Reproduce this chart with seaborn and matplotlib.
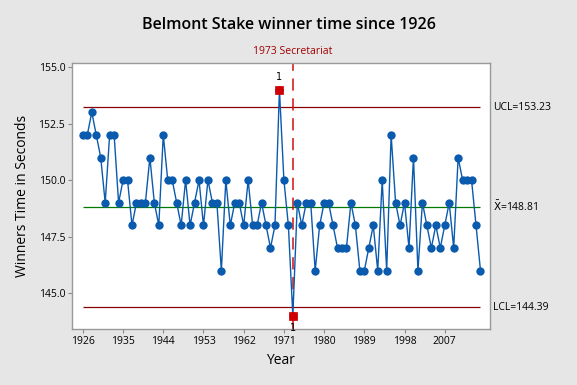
import matplotlib
matplotlib.use("Agg")
import matplotlib.pyplot as plt
import seaborn as sns
import pandas as pd

years = list(range(1926, 2016))
times = [
    152, 152, 153, 152, 151, 149, 152, 152, 149, 150,
    150, 148, 149, 149, 149, 151, 149, 148, 152, 150,
    150, 149, 148, 150, 148, 149, 150, 148, 150, 149,
    149, 146, 150, 148, 149, 149, 148, 150, 148, 148,
    149, 148, 147, 148, 154, 150, 148, 144, 149, 148,
    149, 149, 146, 148, 149, 149, 148, 147, 147, 147,
    149, 148, 146, 146, 147, 148, 146, 150, 146, 152,
    149, 148, 149, 147, 151, 146, 149, 148, 147, 148,
    147, 148, 149, 147, 151, 150, 150, 150, 148, 146,
]
out_years = [1970, 1973]
ucl = 153.23
center = 148.81
lcl = 144.39
xtick_years = list(range(1926, 2008, 9))
ytick_vals = [145.0, 147.5, 150.0, 152.5, 155.0]

df = pd.DataFrame({"Year": years, "Time": times})
df_out = df[df["Year"].isin(out_years)]

sns.set_theme(style="white")
plt.rcParams["font.family"] = ["Open Sans", "DejaVu Sans"]
plt.rcParams["text.color"] = "black"
plt.rcParams["axes.labelcolor"] = "black"
plt.rcParams["xtick.color"] = "black"
plt.rcParams["ytick.color"] = "black"

fig = plt.figure(figsize=(5.77, 3.85), dpi=100, facecolor="#E6E6E6")
ax = fig.add_axes([0.125, 0.145, 0.724, 0.692])
ax.set_facecolor("white")

blue = "#0A5AAE"
sns.lineplot(data=df, x="Year", y="Time", color=blue, linewidth=1.0,
             marker="o", markersize=6, markeredgewidth=0,
             markeredgecolor=blue, ax=ax, zorder=3)
sns.scatterplot(data=df_out, x="Year", y="Time", marker="s", s=40,
                color="#D00000", edgecolor="#D00000", ax=ax, zorder=4)

# control limits
ax.hlines([ucl, lcl], years[0], years[-1], color="#8B0000", linewidth=0.9, zorder=2)
ax.hlines(center, years[0], years[-1], color="#007A00", linewidth=0.9, zorder=2)
ax.axvline(1973, color="#D01010", linestyle=(0, (8, 5)), linewidth=1.1, zorder=2)

# test-failure labels on the out-of-control points
for (_, row), dy in zip(df_out.iterrows(), [9, -9]):
    ax.annotate("1", xy=(row["Year"], row["Time"]), xytext=(0, dy),
                textcoords="offset points", ha="center", va="center",
                fontsize=7, family="DejaVu Sans", color="black",
                annotation_clip=False, zorder=10)

ax.text(1973, 155.45, "1973 Secretariat", ha="center", va="bottom",
        fontsize=7.5, color="#A00000")

ax.text(2017.8, ucl, "UCL=153.23", ha="left", va="center", fontsize=7.5,
        clip_on=False)
ax.text(2017.8, center, r"$\bar{\mathrm{X}}$=148.81", ha="left", va="center",
        fontsize=7.5, clip_on=False)
ax.text(2017.8, lcl, "LCL=144.39", ha="left", va="center", fontsize=7.5,
        clip_on=False)

ax.set_xlim(1923.6, 2017.1)
ax.set_ylim(143.41, 155.19)
ax.set_xticks(xtick_years)
ax.set_xticklabels([str(y) for y in xtick_years], fontsize=7.5)
ax.set_yticks(ytick_vals)
ax.set_yticklabels([f"{v:.1f}" for v in ytick_vals], fontsize=7.5)
ax.tick_params(axis="both", direction="out", length=3, width=0.8,
               color="#888888", pad=2, bottom=True, left=True)
for sp in ax.spines.values():
    sp.set_color("#999999")
    sp.set_linewidth(1.0)

ax.set_xlabel("Year", fontsize=10, labelpad=4)
ax.set_ylabel("Winners Time in Seconds", fontsize=10, labelpad=6)
fig.suptitle("Belmont Stake winner time since 1926", fontsize=11.5,
             fontweight="semibold", y=0.955)

fig.savefig("out.png", dpi=100, facecolor=fig.get_facecolor())
